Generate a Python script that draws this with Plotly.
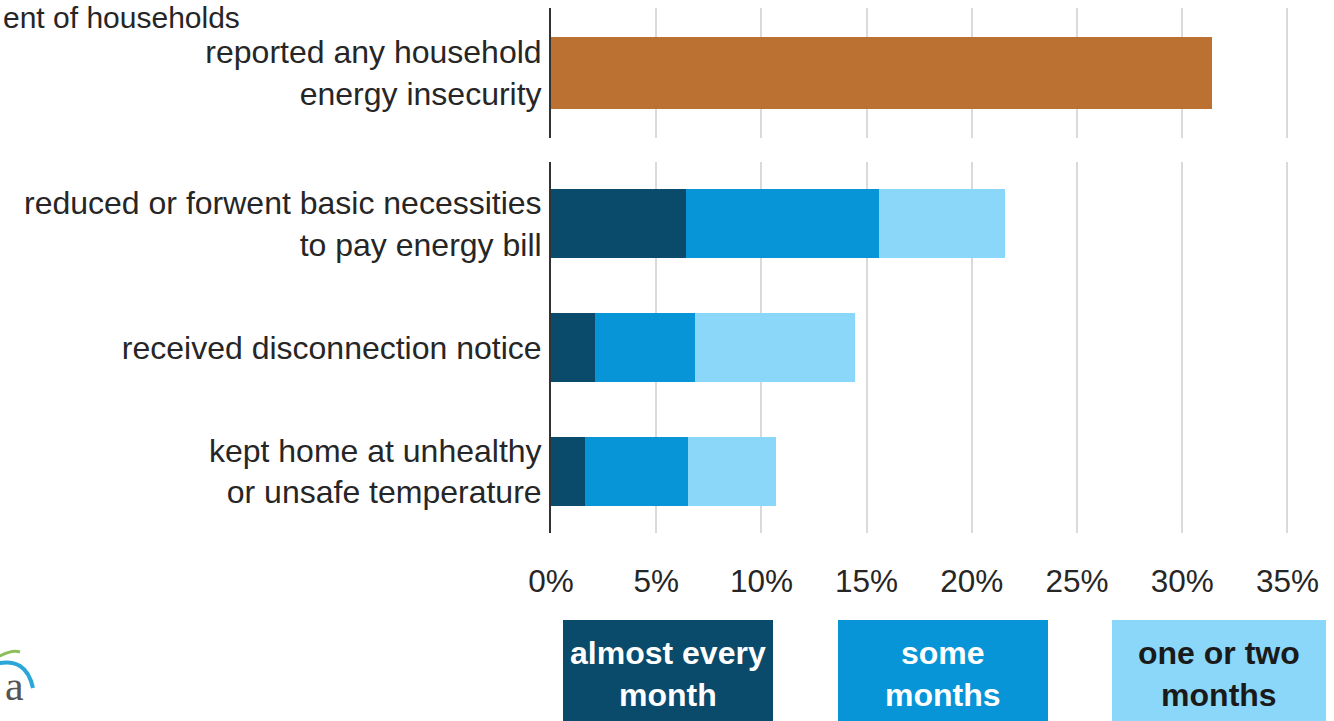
import plotly.graph_objects as go

# ---- data ----
top_category = ["reported any household<br>energy insecurity"]
top_values = [31.4]

categories = [
    "reduced or forwent basic necessities<br>to pay energy bill",
    "received disconnection notice",
    "kept home at unhealthy<br>or unsafe temperature",
]
almost_every_month = [6.4, 2.1, 1.6]
some_months = [9.2, 4.75, 4.9]
one_or_two_months = [6.0, 7.6, 4.2]

series_names = ["almost every<br>month", "some<br>months", "one or two<br>months"]
tick_values = [0, 5, 10, 15, 20, 25, 30, 35]
tick_labels = ["0%", "5%", "10%", "15%", "20%", "25%", "30%", "35%"]

# ---- styles ----
W, H = 1334, 721
FONT = "Liberation Sans, Arial, sans-serif"
ORANGE = "#BA7131"
DARK = "#0A4A6B"
MID = "#0795D7"
LIGHT = "#8BD7F9"
GRID = "#DADADA"
TEXT = "#262626"


def px(x):
    return x / W


def py(y):
    return 1 - y / H


fig = go.Figure()
fig.add_trace(go.Bar(y=top_category, x=top_values, orientation="h",
                     marker=dict(color=ORANGE, line=dict(width=0)),
                     xaxis="x", yaxis="y", showlegend=False))
for vals, col, name in zip([almost_every_month, some_months, one_or_two_months],
                           [DARK, MID, LIGHT], series_names):
    fig.add_trace(go.Bar(y=categories, x=vals, orientation="h", name=name,
                         marker=dict(color=col, line=dict(width=0)),
                         xaxis="x2", yaxis="y2", showlegend=False))

x_dom = [px(551), 1]
x_range = [0, (W - 551) / 21.04]

common_x = dict(range=x_range, domain=x_dom, showgrid=True, gridcolor=GRID, gridwidth=1.5,
                zeroline=False, showline=False, tickvals=tick_values, fixedrange=True)
common_y = dict(showline=True, linecolor="#333333", linewidth=2, ticks="", showgrid=False,
                automargin=False, ticklabelstandoff=1,
                tickfont=dict(family=FONT, size=32, color=TEXT))

fig.update_layout(
    width=W, height=H,
    margin=dict(l=0, r=0, t=0, b=0),
    paper_bgcolor="white", plot_bgcolor="white",
    barmode="stack",
    bargap=0.44,
    font=dict(family=FONT, color=TEXT),
    xaxis=dict(**common_x, anchor="y", showticklabels=False),
    yaxis=dict(**common_y, domain=[py(138), py(8)], anchor="x"),
    xaxis2=dict(**common_x, anchor="y2", ticktext=tick_labels, showticklabels=True,
                ticks="", ticklabelstandoff=26, automargin=False,
                tickfont=dict(family=FONT, size=31.5, color=TEXT)),
    yaxis2=dict(**common_y, domain=[py(533), py(162)], anchor="x2", autorange="reversed"),
)

# axis title text (cropped at the left in the reference)
fig.add_annotation(text="ent of households", x=px(2), y=py(0), xref="paper", yref="paper",
                   xanchor="left", yanchor="top", showarrow=False, borderpad=0,
                   font=dict(family=FONT, size=30, color=TEXT))

# legend boxes
legend_boxes = [(563, 773, DARK, "white"), (838, 1048, MID, "white"), (1112, 1326, LIGHT, "#1a1a1a")]
for (x0, x1, col, tcol), name in zip(legend_boxes, series_names):
    fig.add_shape(type="rect", xref="paper", yref="paper", x0=px(x0), x1=px(x1),
                  y0=py(730), y1=py(620), fillcolor=col, line=dict(width=0), layer="below")
    fig.add_annotation(text="<b>" + name + "</b>", x=px((x0 + x1) / 2), y=py(674),
                       xref="paper", yref="paper", xanchor="center", yanchor="middle",
                       showarrow=False, align="center",
                       font=dict(family=FONT, size=32, color=tcol))

# partial logo at bottom-left
fig.add_shape(type="path", xref="paper", yref="paper",
              path=f"M {px(-5)},{py(664)} Q {px(26)},{py(656)} {px(33)},{py(688)}",
              line=dict(color="#29A8D8", width=4))
fig.add_shape(type="path", xref="paper", yref="paper",
              path=f"M {px(-2)},{py(657)} Q {px(12)},{py(649)} {px(20)},{py(652)}",
              line=dict(color="#8CBF5A", width=3))
fig.add_annotation(text="a", x=px(14), y=py(686), xref="paper", yref="paper",
                   xanchor="center", yanchor="middle", showarrow=False,
                   font=dict(family="Liberation Serif, serif", size=42, color="#555555"))

fig.write_html("out.html", config={"displayModeBar": False},
               post_script="document.body.style.margin='0';")
